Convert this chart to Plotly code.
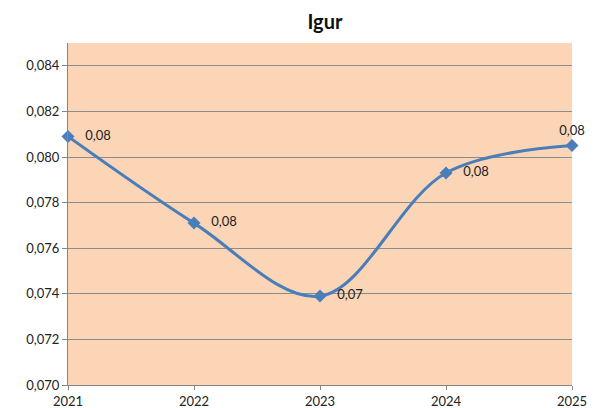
import plotly.graph_objects as go

years = [2021, 2022, 2023, 2024, 2025]
values = [0.0809, 0.0771, 0.0739, 0.0793, 0.0805]
label_pos = ["middle right", "middle right", "middle right", "middle right", "top center"]
y_ticks = [0.070, 0.072, 0.074, 0.076, 0.078, 0.080, 0.082, 0.084]

pad = "\u00a0\u00a0\u00a0"
label_tpl = [pad + "%{y:.2f}"] * 4 + ["%{y:.2f}"]

fig = go.Figure()
fig.add_trace(go.Scatter(
    x=years, y=values,
    mode="lines+markers+text",
    line=dict(color="#4A7EBB", width=3, shape="spline", smoothing=1.0),
    marker=dict(symbol="diamond", size=10, color="#4A7EBB"),
    texttemplate=label_tpl,
    textposition=label_pos,
    textfont=dict(family="Lato, Liberation Sans, sans-serif", size=13, color="#222222"),
    cliponaxis=False,
    showlegend=False,
))

# page body has an 8px margin, so the figure is sized to fill the rest of the window
fig.update_layout(
    width=587, height=400,
    margin=dict(l=60, r=23, t=35, b=23),
    paper_bgcolor="white",
    plot_bgcolor="#FBD5B5",
    separators=",.",
    title=dict(text="<b>Igur</b>", x=0.54, xanchor="center", y=0.982, yanchor="top",
               font=dict(family="Lato, Liberation Sans, sans-serif", size=20, color="#111111")),
    font=dict(family="Lato, Liberation Sans, sans-serif", size=13, color="#222222"),
)
fig.update_xaxes(
    range=[2021, 2025], tickvals=years, ticktext=[str(y) for y in years],
    showgrid=False, showline=True, linecolor="#868686", linewidth=1,
    ticks="outside", ticklen=4, tickcolor="#868686", zeroline=False,
    automargin=False,
)
fig.update_yaxes(
    range=[0.070, 0.085], tickvals=y_ticks, tickformat=".3f",
    showgrid=True, gridcolor="#8C8C8C", gridwidth=1,
    showline=True, linecolor="#868686", linewidth=1,
    ticks="outside", ticklen=5, tickcolor="#868686", zeroline=False,
    automargin=False,
)

fig.write_html("out.html")
